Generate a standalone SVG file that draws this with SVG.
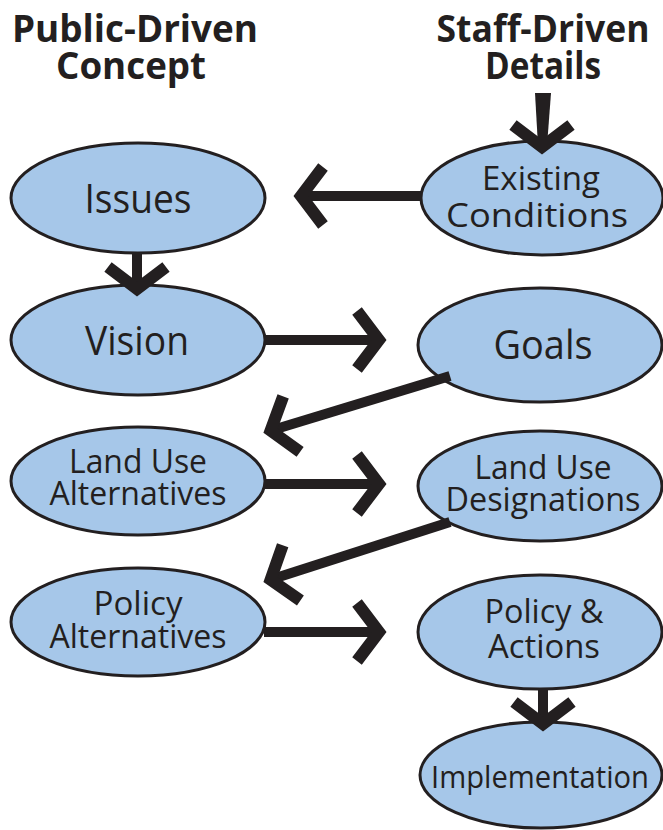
<svg xmlns="http://www.w3.org/2000/svg" width="663" height="830" viewBox="0 0 663 830">
  <style>
    .title { font-family: "Open Sans", "Liberation Sans", sans-serif; font-weight: bold; font-size: 37px; fill: #231f20; text-anchor: middle; }
    .node ellipse { fill: #a6c7e9; stroke: #231f20; stroke-width: 3; }
    .node text { font-family: "Open Sans", "Liberation Sans", sans-serif; fill: #231f20; text-anchor: middle; }
    .big { font-size: 40px; }
    .mid { font-size: 33px; }
    .small { font-size: 31px; }
    .shaft { stroke: #231f20; stroke-width: 10; fill: none; }
    .head { stroke: #231f20; stroke-width: 12; fill: none; stroke-linejoin: miter; stroke-miterlimit: 10; }
  </style>
  <defs>
    <!-- open chevron arrowhead pointing along +x, vertex at origin -->
    <path id="chev" class="head" d="M-22,-29 L0,0 L-22,29"/>
  </defs>

  <rect width="663" height="830" fill="#ffffff"/>

  <!-- column headings -->
  <g id="heading-public">
    <text class="title" x="135" y="42" textLength="246" lengthAdjust="spacingAndGlyphs">Public-Driven</text>
    <text class="title" x="131" y="79" textLength="150" lengthAdjust="spacingAndGlyphs">Concept</text>
  </g>
  <g id="heading-staff">
    <text class="title" x="543" y="42" textLength="213" lengthAdjust="spacingAndGlyphs">Staff-Driven</text>
    <text class="title" x="543" y="79" textLength="116" lengthAdjust="spacingAndGlyphs">Details</text>
  </g>

  <!-- nodes -->
  <g id="issues" class="node">
    <ellipse cx="138" cy="198" rx="127" ry="55"/>
    <text class="big" x="138" y="213" textLength="107" lengthAdjust="spacingAndGlyphs">Issues</text>
  </g>
  <g id="existing-conditions" class="node">
    <ellipse cx="542" cy="198" rx="121" ry="57"/>
    <text class="mid" x="541" y="190" textLength="118" lengthAdjust="spacingAndGlyphs">Existing</text>
    <text class="mid" x="537" y="227" textLength="182" lengthAdjust="spacingAndGlyphs">Conditions</text>
  </g>
  <g id="vision" class="node">
    <ellipse cx="138" cy="340" rx="127" ry="55"/>
    <text class="big" x="137" y="355" textLength="104" lengthAdjust="spacingAndGlyphs">Vision</text>
  </g>
  <g id="goals" class="node">
    <ellipse cx="540" cy="345" rx="122" ry="57"/>
    <text class="big" x="543" y="359" textLength="99" lengthAdjust="spacingAndGlyphs">Goals</text>
  </g>
  <g id="land-use-alternatives" class="node">
    <ellipse cx="138" cy="481" rx="127" ry="54"/>
    <text class="mid" x="138" y="473" textLength="138" lengthAdjust="spacingAndGlyphs">Land Use</text>
    <text class="mid" x="138" y="505" textLength="177" lengthAdjust="spacingAndGlyphs">Alternatives</text>
  </g>
  <g id="land-use-designations" class="node">
    <ellipse cx="540" cy="486" rx="122" ry="55"/>
    <text class="mid" x="543" y="479" textLength="137" lengthAdjust="spacingAndGlyphs">Land Use</text>
    <text class="mid" x="543" y="511" textLength="195" lengthAdjust="spacingAndGlyphs">Designations</text>
  </g>
  <g id="policy-alternatives" class="node">
    <ellipse cx="138" cy="622" rx="127" ry="54"/>
    <text class="mid" x="138" y="615" textLength="89" lengthAdjust="spacingAndGlyphs">Policy</text>
    <text class="mid" x="138" y="648" textLength="177" lengthAdjust="spacingAndGlyphs">Alternatives</text>
  </g>
  <g id="policy-actions" class="node">
    <ellipse cx="540" cy="632" rx="122" ry="57"/>
    <text class="mid" x="544" y="623" textLength="119" lengthAdjust="spacingAndGlyphs">Policy &amp;</text>
    <text class="mid" x="544" y="658" textLength="112" lengthAdjust="spacingAndGlyphs">Actions</text>
  </g>
  <g id="implementation" class="node">
    <ellipse cx="541" cy="775" rx="121" ry="53"/>
    <text class="small" x="540" y="788" textLength="218" lengthAdjust="spacingAndGlyphs">Implementation</text>
  </g>

  <!-- connectors -->
  <g id="connectors">
    <!-- into Existing Conditions from the heading -->
    <polygon points="535,93 551,93 547,146 538,146" fill="#231f20"/>
    <use href="#chev" transform="translate(542,147) rotate(90)"/>
    <!-- Existing Conditions to Issues -->
    <line class="shaft" x1="421" y1="196" x2="302" y2="196"/>
    <use href="#chev" transform="translate(301,196) rotate(180)"/>
    <!-- Issues to Vision -->
    <line class="shaft" x1="137" y1="252" x2="137" y2="288"/>
    <use href="#chev" transform="translate(137,289) rotate(90)"/>
    <!-- Vision to Goals -->
    <line class="shaft" x1="264" y1="340" x2="378" y2="340"/>
    <use href="#chev" transform="translate(379,340)"/>
    <!-- Goals to Land Use Alternatives -->
    <line class="shaft" x1="450" y1="376" x2="271" y2="430.5"/>
    <use href="#chev" transform="translate(270.6,430.6) rotate(163)"/>
    <!-- Land Use Alternatives to Land Use Designations -->
    <line class="shaft" x1="264" y1="484" x2="378" y2="484"/>
    <use href="#chev" transform="translate(379,484)"/>
    <!-- Land Use Designations to Policy Alternatives -->
    <line class="shaft" x1="450" y1="522" x2="271" y2="579.5"/>
    <use href="#chev" transform="translate(270.6,579.6) rotate(162.2)"/>
    <!-- Policy Alternatives to Policy & Actions -->
    <line class="shaft" x1="264" y1="632" x2="378" y2="632"/>
    <use href="#chev" transform="translate(379,632)"/>
    <!-- Policy & Actions to Implementation -->
    <line class="shaft" x1="543" y1="688" x2="543" y2="723"/>
    <use href="#chev" transform="translate(543,724) rotate(90)"/>
  </g>
</svg>
